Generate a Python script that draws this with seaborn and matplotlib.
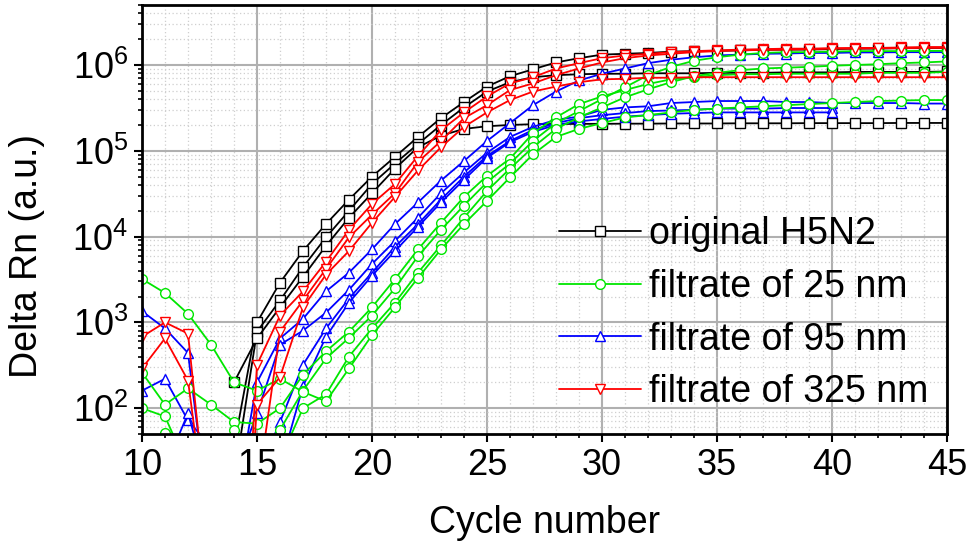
import numpy as np
import seaborn as sns
import matplotlib
matplotlib.use("Agg")
import matplotlib.pyplot as plt
from matplotlib.lines import Line2D
from matplotlib.ticker import LogLocator, MultipleLocator, NullFormatter

nan = np.nan
cycles = list(range(10, 46))

# Delta Rn per cycle (10..45); nan = no point drawn
black_1 = [nan, nan, nan, nan, 36, 1.0e3, 2.9e3, 6.8e3, 1.4e4, 2.7e4,
           5.0e4, 8.5e4, 1.45e5, 2.4e5, 3.7e5, 5.6e5, 7.4e5, 8.9e5, 1.07e6, 1.2e6,
           1.32e6, 1.35e6, 1.38e6, 1.43e6, 1.45e6, 1.46e6, 1.48e6, 1.5e6, 1.51e6, 1.51e6,
           1.53e6, 1.55e6, 1.55e6, 1.57e6, 1.57e6, 1.58e6]
black_2 = [nan, nan, nan, nan, 15, 780, 1.8e3, 4.4e3, 9.8e3, 2.0e4,
           4.1e4, 7.1e4, 1.2e5, 2.0e5, 3.2e5, 4.9e5, 6.3e5, 7.2e5, 7.6e5, 7.8e5,
           7.9e5, 7.9e5, 8.0e5, 8.0e5, 8.0e5, 8.1e5, 8.1e5, 8.1e5, 8.2e5, 8.2e5,
           8.2e5, 8.3e5, 8.3e5, 8.3e5, 8.3e5, 8.4e5]
black_3 = [nan, nan, nan, nan, 200, 650, 1.5e3, 3.4e3, 7.8e3, 1.66e4,
           3.2e4, 6.2e4, 1.1e5, 1.5e5, 1.8e5, 1.93e5, 2.0e5, 2.04e5, 2.05e5, 2.06e5,
           2.06e5, 2.07e5, 2.07e5, 2.08e5, 2.08e5, 2.08e5, 2.09e5, 2.09e5, 2.09e5, 2.1e5,
           2.1e5, 2.1e5, 2.1e5, 2.11e5, 2.11e5, 2.11e5]

green_1 = [260, 110, 170, 110, 69, 66, 100, 245, 460, 780,
           1.5e3, 3.2e3, 7.1e3, 1.45e4, 2.9e4, 5.1e4, 8.1e4, 1.6e5, 2.45e5, 3.5e5,
           4.3e5, 5.1e5, 6.0e5, 6.8e5, 7.2e5, 7.6e5, 7.8e5, 7.8e5, 7.9e5, 7.9e5,
           7.9e5, 7.9e5, 8.1e5, 8.1e5, 8.1e5, 8.3e5]
green_2 = [100, 80, 20, 10, 55, 32, 56, 160, 380, 660,
           1.2e3, 2.5e3, 5.9e3, 1.2e4, 2.3e4, 4.3e4, 7.1e4, 1.3e5, 2.1e5, 2.9e5,
           4.0e5, 5.5e5, 7.6e5, 9.5e5, 1.12e6, 1.23e6, 1.32e6, 1.38e6, 1.41e6, 1.41e6,
           1.43e6, 1.45e6, 1.45e6, 1.45e6, 1.46e6, 1.46e6]
green_3 = [32, 52, 20, 10, 6.3, 10, 25, 100, 145, 400,
           850, 1.7e3, 3.8e3, 7.9e3, 1.66e4, 3.4e4, 6.2e4, 1.1e5, 1.8e5, 2.45e5,
           3.2e5, 4.2e5, 5.2e5, 6.3e5, 7.4e5, 8.1e5, 8.7e5, 9.1e5, 9.3e5, 9.5e5,
           9.8e5, 1.0e6, 1.02e6, 1.05e6, 1.07e6, 1.1e6]
green_4 = [3.2e3, 2.2e3, 1.26e3, 550, 200, 160, 220, 155, 120, 290,
           710, 1.5e3, 3.3e3, 7.1e3, 1.4e4, 2.6e4, 4.9e4, 9.1e4, 1.45e5, 1.8e5,
           2.1e5, 2.45e5, 2.6e5, 2.8e5, 3.0e5, 3.1e5, 3.2e5, 3.3e5, 3.4e5, 3.5e5,
           3.6e5, 3.7e5, 3.8e5, 3.85e5, 3.9e5, 3.9e5]

blue_1 = [1.35e3, 850, 440, 3.2, 6.3, 200, 650, 1.1e3, 2.3e3, 3.8e3,
          7.1e3, 1.4e4, 2.5e4, 4.5e4, 7.6e4, 1.3e5, 2.1e5, 3.4e5, 4.9e5, 6.6e5,
          7.9e5, 9.1e5, 1.05e6, 1.15e6, 1.23e6, 1.29e6, 1.32e6, 1.35e6, 1.36e6, 1.38e6,
          1.38e6, 1.4e6, 1.4e6, 1.41e6, 1.41e6, 1.41e6]
blue_2 = [160, 220, 72, 35, 16, 87, 550, 800, 1.3e3, 2.4e3,
          4.8e3, 8.9e3, 1.66e4, 3.2e4, 5.6e4, 9.5e4, 1.45e5, 1.9e5, 2.3e5, 2.5e5,
          3.0e5, 3.2e5, 3.3e5, 3.6e5, 3.7e5, 3.8e5, 3.8e5, 3.8e5, 3.7e5, 3.7e5,
          3.6e5, 3.6e5, 3.6e5, 3.6e5, 3.55e5, 3.55e5]
blue_3 = [nan, 20, 87, 10, 6.3, 16, 69, 320, 850, 1.9e3,
          3.8e3, 7.6e3, 1.4e4, 2.7e4, 5.0e4, 8.7e4, 1.3e5, 1.75e5, 2.1e5, 2.4e5,
          2.6e5, 2.75e5, 2.9e5, 2.95e5, 3.0e5, 3.1e5, 3.1e5, 3.1e5, 3.15e5, 3.15e5,
          3.15e5, nan, nan, nan, nan, nan]
blue_4 = [nan, nan, nan, nan, nan, nan, 20, 180, 680, 1.7e3,
          3.5e3, 6.8e3, 1.3e4, 2.5e4, 4.6e4, 8.3e4, 1.26e5, 1.66e5, 2.0e5, 2.2e5,
          2.35e5, 2.5e5, 2.6e5, 2.7e5, 2.75e5, 2.8e5, 2.8e5, 2.8e5, 2.8e5, 2.8e5,
          2.8e5, nan, nan, nan, nan, nan]

red_1 = [680, 1.0e3, 740, 2, 0.01, 320, 1.2e3, 2.3e3, 5.1e3, 1.2e4,
         2.4e4, 4.1e4, 8.7e4, 1.74e5, 2.8e5, 4.3e5, 6.1e5, 7.2e5, 9.1e5, 1.05e6,
         1.2e6, 1.29e6, 1.35e6, 1.41e6, 1.45e6, 1.48e6, 1.51e6, 1.53e6, 1.55e6, 1.55e6,
         1.57e6, 1.58e6, 1.58e6, 1.6e6, 1.62e6, 1.62e6]
red_2 = [290, 650, 210, 2, 2, 10, 780, 1.8e3, 4.2e3, 9.8e3,
         1.8e4, 3.2e4, 7.4e4, 1.3e5, 2.4e5, 3.4e5, 5.1e5, 6.1e5, 7.6e5, 9.1e5,
         1.07e6, 1.2e6, 1.29e6, 1.35e6, 1.41e6, 1.45e6, 1.48e6, 1.5e6, 1.51e6, 1.53e6,
         1.55e6, 1.55e6, 1.57e6, 1.57e6, 1.58e6, 1.58e6]
red_3 = [nan, nan, nan, nan, 0.01, 110, 230, 1.5e3, 3.6e3, 6.8e3,
         1.45e4, 2.9e4, 5.9e4, 1.1e5, 1.9e5, 2.8e5, 3.9e5, 4.9e5, 5.6e5, 6.3e5,
         6.8e5, 6.9e5, 7.1e5, 7.1e5, 7.2e5, 7.2e5, 7.2e5, 7.2e5, 7.2e5, 7.2e5,
         7.2e5, 7.2e5, 7.2e5, 7.2e5, 7.2e5, 7.2e5]

labels = ["original H5N2", "filtrate of 25 nm", "filtrate of 95 nm", "filtrate of 325 nm"]
colors = ["#000000", "#00e600", "#0000ff", "#ff0000"]
markers = ["s", "o", "^", "v"]
groups = [[black_1, black_2, black_3],
          [green_1, green_2, green_3, green_4],
          [blue_1, blue_2, blue_3, blue_4],
          [red_1, red_2, red_3]]
draw_order = [0, 2, 1, 3]

sns.set_style("ticks")
plt.rcParams["font.family"] = ["Liberation Sans", "DejaVu Sans"]
plt.rcParams["mathtext.fontset"] = "custom"
plt.rcParams["mathtext.rm"] = "Liberation Sans"
plt.rcParams["mathtext.it"] = "Liberation Sans:italic"
for key in ["text.color", "axes.labelcolor", "xtick.color", "ytick.color"]:
    plt.rcParams[key] = "black"

fig = plt.figure(figsize=(9.71, 5.48), dpi=100)
ax = fig.add_axes([142 / 971, 114 / 548, 805 / 971, 429 / 548])
ax.set_yscale("log")

for g in draw_order:
    for vals in groups[g]:
        sns.lineplot(x=cycles, y=vals, ax=ax, color=colors[g], marker=markers[g],
                     markersize=7, markerfacecolor="white", markeredgecolor=colors[g],
                     markeredgewidth=1.0, linewidth=1.3, estimator=None,
                     errorbar=None, legend=False, sort=False)

ax.set_xlim(10, 45)
ax.set_ylim(50, 5e6)
ax.xaxis.set_major_locator(MultipleLocator(5))
ax.xaxis.set_minor_locator(MultipleLocator(1))
ax.yaxis.set_major_locator(LogLocator(base=10, numticks=10))
ax.yaxis.set_minor_locator(LogLocator(base=10, subs=np.arange(2, 10), numticks=20))
ax.yaxis.set_minor_formatter(NullFormatter())

ax.set_axisbelow(True)
ax.grid(True, which="major", color="#b0b0b0", linewidth=1.5)
ax.grid(True, which="minor", color="#cfcfcf", linewidth=0.9, linestyle=(0, (1, 2)))

for s in ax.spines.values():
    s.set_linewidth(2)
    s.set_color("black")
ax.tick_params(which="major", direction="out", length=6, width=1.5, labelsize=26, pad=4)
ax.tick_params(which="minor", direction="out", length=3, width=1.2)

ax.set_xlabel("Cycle number", fontsize=27)
ax.set_ylabel("Delta Rn (a.u.)", fontsize=27)
ax.xaxis.set_label_coords(0.5, -0.165)
ax.yaxis.set_label_coords(-0.12, 0.415)

handles = [Line2D([], [], color=c, marker=m, markersize=7, markerfacecolor="white",
                  markeredgecolor=c, markeredgewidth=1.0, linewidth=1.3)
           for c, m in zip(colors, markers)]
ax.legend(handles, labels, loc="lower right", bbox_to_anchor=(0.995, 0.02),
          frameon=False, fontsize=27, handlelength=2.2, handletextpad=0.2,
          labelspacing=0.45, borderaxespad=0)

fig.savefig("out.png", dpi=100)
